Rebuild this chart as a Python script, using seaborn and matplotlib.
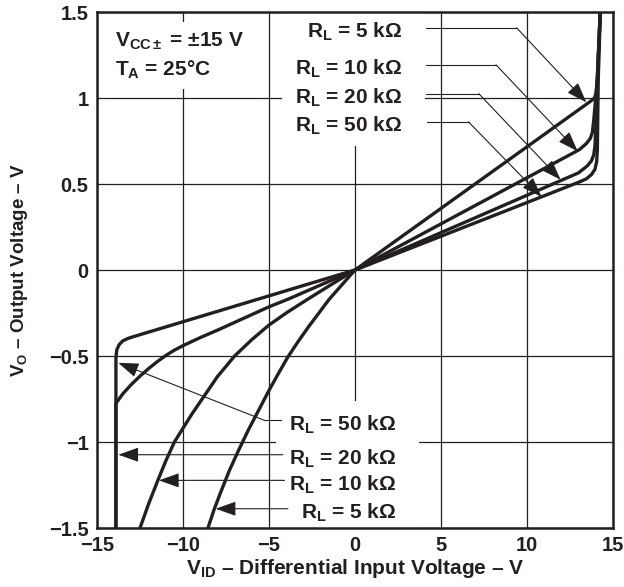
import matplotlib
matplotlib.use("Agg")
import matplotlib.pyplot as plt
import matplotlib.patches as mpatches
import numpy as np
import pandas as pd
import seaborn as sns

# ---------------- data ----------------
series = ["5 kΩ", "10 kΩ", "20 kΩ", "50 kΩ"]

vid_5k = [-8.65, -8.55, -8.2, -7.8, -7.3, -6.8, -6.2, -5.6, -5.0, -4.5, -3.9, -3.3,
          -2.7, -1.5, 0.0, 13.75, 13.92, 14.02, 14.08, 14.15, 14.28]
vo_5k = [-1.53, -1.50, -1.395, -1.29, -1.165, -1.055, -0.93, -0.815, -0.70, -0.61,
         -0.505, -0.415, -0.33, -0.17, 0.0, 0.985, 1.0, 1.03, 1.10, 1.25, 1.55]

vid_10k = [-12.62, -12.5, -12.0, -11.45, -11.0, -10.5, -10.0, -9.5, -8.75, -8.0, -7.0,
           -6.0, -5.0, -4.0, -2.8, -1.4, 0.0,
           13.05, 13.45, 13.68, 13.8, 13.88, 13.95, 14.02, 14.08, 14.15, 14.28]
vo_10k = [-1.535, -1.50, -1.36, -1.22, -1.11, -1.0, -0.92, -0.84, -0.73, -0.62, -0.50,
          -0.405, -0.32, -0.25, -0.173, -0.086, 0.0,
          0.70, 0.735, 0.765, 0.80, 0.87, 0.95, 1.03, 1.10, 1.25, 1.55]

vid_20k = [-13.9, -13.9, -13.5, -13.0, -12.5, -12.0, -11.5, -11.0, -10.5, -10.0, -9.0,
           -8.0, -5.0, -3.9, 0.0,
           13.0, 13.5, 13.75, 13.88, 13.95, 13.99, 14.03, 14.08, 14.15, 14.28]
vo_20k = [-1.55, -0.775, -0.72, -0.665, -0.617, -0.573, -0.533, -0.497, -0.466, -0.44,
          -0.393, -0.35, -0.214, -0.17, 0.0,
          0.565, 0.605, 0.635, 0.67, 0.72, 0.80, 0.90, 1.05, 1.25, 1.55]

vid_50k = [-13.9, -13.9, -13.85, -13.72, -13.5, -13.2, -12.9, 0.0,
           13.0, 13.45, 13.75, 13.95, 14.05, 14.09, 14.11, 14.14, 14.28]
vo_50k = [-1.55, -0.51, -0.465, -0.435, -0.412, -0.398, -0.388, 0.0,
          0.51, 0.53, 0.555, 0.585, 0.63, 0.70, 0.85, 1.10, 1.55]

x_ticks = [-15, -10, -5, 0, 5, 10, 15]
y_ticks = [-1.5, -1, -0.5, 0, 0.5, 1, 1.5]
x_ticklabels = ["\u221215", "\u221210", "\u22125", "0", "5", "10", "15"]
y_ticklabels = ["\u22121.5", "\u22121", "\u22120.5", "0", "0.5", "1", "1.5"]

# annotation leaders: (start x, bend x, y, tip x, tip y)
top_start_x = [4.1, 4.1, 4.1, 4.2]
top_bend_x = [9.4, 8.2, 7.2, 6.6]
top_y = [1.408, 1.193, 1.025, 0.861]
top_tip_x = [13.45, 12.95, 11.95, 10.85]
top_tip_y = [0.975, 0.69, 0.525, 0.425]

bot_series = ["50 kΩ", "20 kΩ", "10 kΩ", "5 kΩ"]
bot_start_x = [-4.3, -4.2, -4.1, -3.9]
bot_bend_x = [-5.27, -4.2, -4.1, -3.9]
bot_y = [-0.874, -1.074, -1.223, -1.388]
bot_tip_x = [-13.76, -13.76, -11.4, -8.1]
bot_tip_y = [-0.54, -1.074, -1.223, -1.388]

# ---------------- build table ----------------
frames = []
for name, xs, ys in zip(series, [vid_5k, vid_10k, vid_20k, vid_50k],
                        [vo_5k, vo_10k, vo_20k, vo_50k]):
    frames.append(pd.DataFrame({"VID": xs, "VO": ys, "RL": name}))
df = pd.concat(frames, ignore_index=True)

# ---------------- style ----------------
sns.set_theme(style="white")
plt.rcParams["font.family"] = ["Liberation Sans", "DejaVu Sans"]
plt.rcParams["font.weight"] = "bold"
plt.rcParams["mathtext.fontset"] = "custom"
plt.rcParams["mathtext.rm"] = "Liberation Sans:bold"
plt.rcParams["mathtext.it"] = "Liberation Sans:bold"
plt.rcParams["mathtext.bf"] = "Liberation Sans:bold"
plt.rcParams["mathtext.sf"] = "Liberation Sans:bold"

ink = "#231f20"
fs_tick = 14.5
fs_ann = 15

fig = plt.figure(figsize=(6.24, 5.87), dpi=100)
ax = fig.add_axes([97 / 624, 1 - 528 / 587, 516 / 624, 516 / 587])

sns.lineplot(data=df, x="VID", y="VO", units="RL", estimator=None, sort=False,
             color=ink, linewidth=2.4, ax=ax, zorder=3, legend=False)

ax.set_xlim(-15, 15)
ax.set_ylim(-1.5, 1.5)
ax.set_xticks(x_ticks)
ax.set_xticklabels(x_ticklabels, fontsize=fs_tick, fontweight="bold")
ax.set_yticks(y_ticks)
ax.set_yticklabels(y_ticklabels, fontsize=fs_tick, fontweight="bold")
ax.tick_params(length=0, pad=6, colors=ink)
ax.grid(True, color=ink, linewidth=0.9)
ax.set_axisbelow(True)
for sp in ax.spines.values():
    sp.set_linewidth(1.8)
    sp.set_color(ink)

ax.set_xlabel(r"V$_{\mathrm{ID}}$ – Differential Input Voltage – V",
              fontsize=15, fontweight="bold", color=ink)
ax.set_ylabel(r"V$_{\mathrm{O}}$ – Output Voltage – V",
              fontsize=13.5, fontweight="bold", color=ink)
ax.xaxis.set_label_coords(0.5, -0.056)
ax.yaxis.set_label_coords(-0.13, 0.5)

# white masks behind the text blocks (hide grid lines like the reference)
for (x0, y0, w, h) in [(-4.25, 0.72, 8.3, 0.78), (-4.6, -1.5, 8.3, 0.74),
                       (-14.6, 1.05, 8.6, 0.39)]:
    ax.add_patch(mpatches.Rectangle((x0, y0), w, h, facecolor="white",
                                    edgecolor="none", zorder=1))

# condition text
ax.text(-13.95, 1.30, r"V$_{\mathrm{CC\pm}}$ = ±15 V", fontsize=fs_ann,
        fontweight="bold", color=ink, va="baseline", ha="left", zorder=4)
ax.text(-13.95, 1.13, r"T$_{\mathrm{A}}$ = 25°C", fontsize=fs_ann,
        fontweight="bold", color=ink, va="baseline", ha="left", zorder=4)

arrow_kw = dict(arrowstyle="-|>,head_length=0.9,head_width=0.32",
                mutation_scale=14, lw=0.8, color=ink, shrinkA=0, shrinkB=0)

# top labels
for name, sx, bx, y, tx, ty in zip(series, top_start_x, top_bend_x, top_y,
                                   top_tip_x, top_tip_y):
    ax.text(2.75, y - 0.058, r"R$_{\mathrm{L}}$ = " + name, fontsize=fs_ann,
            fontweight="bold", color=ink, ha="right", va="baseline", zorder=4)
    ax.plot([sx, bx], [y, y], color=ink, lw=0.8, zorder=4)
    ax.annotate("", xy=(tx, ty), xytext=(bx, y), arrowprops=arrow_kw, zorder=4)

# bottom labels
for name, sx, bx, y, tx, ty in zip(bot_series, bot_start_x, bot_bend_x, bot_y,
                                   bot_tip_x, bot_tip_y):
    ax.text(2.4, y - 0.058, r"R$_{\mathrm{L}}$ = " + name, fontsize=fs_ann,
            fontweight="bold", color=ink, ha="right", va="baseline", zorder=4)
    ax.plot([sx, bx], [y, y], color=ink, lw=0.8, zorder=4)
    ax.annotate("", xy=(tx, ty), xytext=(bx, y), arrowprops=arrow_kw, zorder=4)

fig.savefig("out.png", dpi=100)
